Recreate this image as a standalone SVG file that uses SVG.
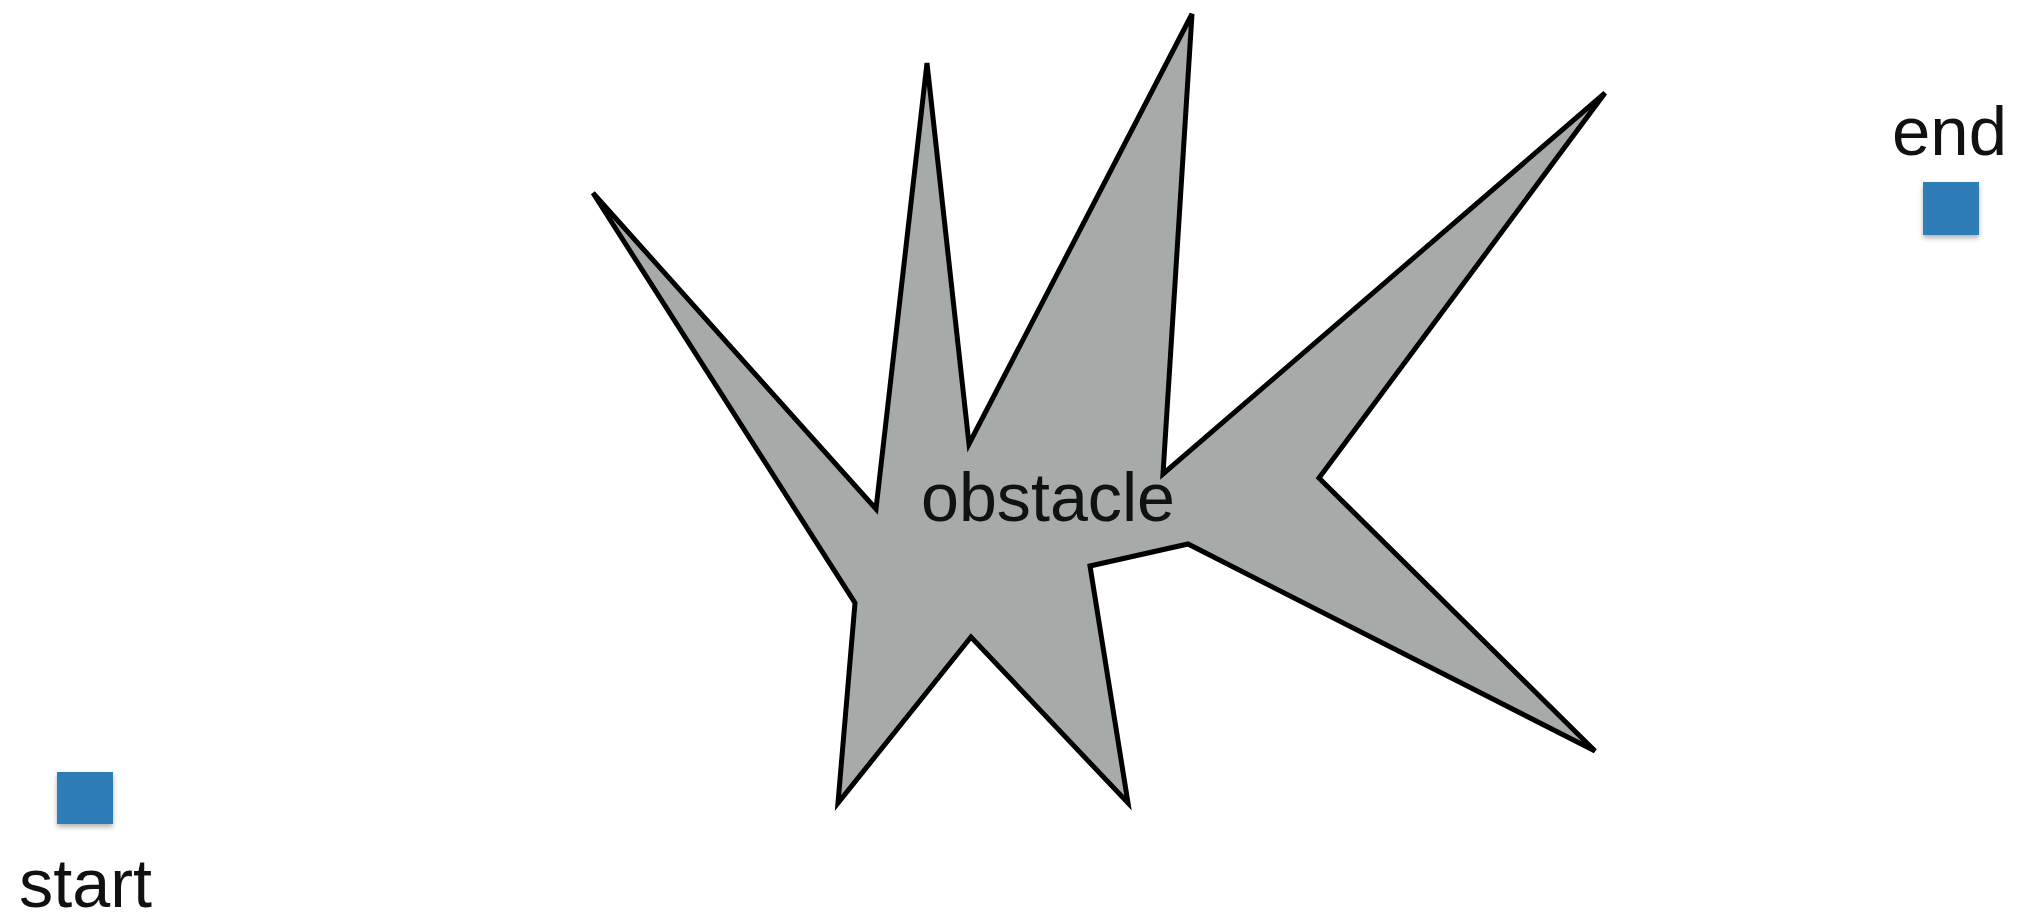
<svg xmlns="http://www.w3.org/2000/svg" width="2019" height="917" viewBox="0 0 2019 917">
  <style>
    .lbl { font-family: "Liberation Sans", Arial, sans-serif; font-size: 68px; fill: #111; }
    .sq { fill: #2f7db6; filter: url(#sh); }
  </style>
  <defs>
    <filter id="sh" x="-30%" y="-30%" width="160%" height="170%">
      <feDropShadow dx="0" dy="3" stdDeviation="2.5" flood-color="#000" flood-opacity="0.3"/>
    </filter>
  </defs>
  <rect width="2019" height="917" fill="#fff"/>
  <g id="obstacle">
    <polygon points="593,193 876,509 927,63 969,444 1192,14 1163,474 1605,93 1319,478 1595,751 1188,544 1090,566 1128,803 971,637 838,803 855,603" fill="#a6aaa9" stroke="#000" stroke-width="5" stroke-linejoin="miter"/>
    <text class="lbl" x="921" y="521" textLength="254" lengthAdjust="spacingAndGlyphs">obstacle</text>
  </g>
  <g id="start">
    <rect class="sq" x="57" y="772" width="56" height="52"/>
    <text class="lbl" x="19" y="907" textLength="133" lengthAdjust="spacingAndGlyphs">start</text>
  </g>
  <g id="end">
    <rect class="sq" x="1923" y="182" width="56" height="53"/>
    <text class="lbl" x="1892" y="155" textLength="115" lengthAdjust="spacingAndGlyphs">end</text>
  </g>
  <g id="connectors"/>
</svg>
